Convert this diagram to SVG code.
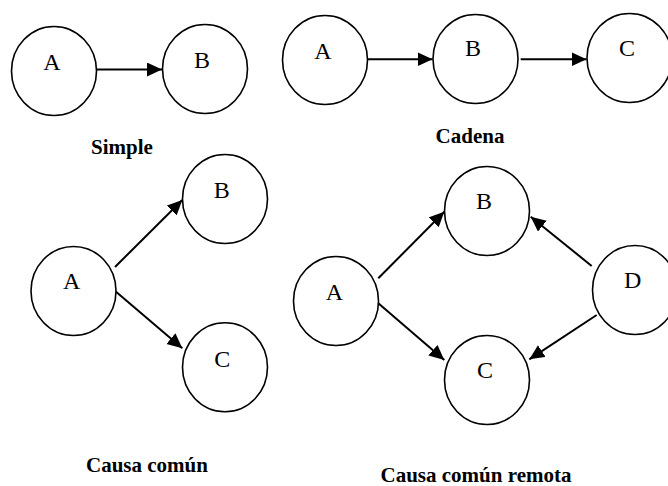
<svg xmlns="http://www.w3.org/2000/svg" width="668" height="486" viewBox="0 0 668 486">
<style>
.n{fill:#fff;stroke:#000;stroke-width:1.6}
.t{font-family:'Liberation Serif','Times New Roman','DejaVu Serif',serif;font-size:24px;fill:#000;text-anchor:middle}
.c{font-family:'Liberation Serif','Times New Roman','DejaVu Serif',serif;font-size:21px;font-weight:bold;fill:#000;text-anchor:middle}
.e{stroke:#000;stroke-width:2;fill:none;marker-end:url(#ah)}
</style>
<defs>
<marker id="ah" markerUnits="userSpaceOnUse" markerWidth="16" markerHeight="15" refX="15" refY="7" orient="auto">
<path d="M0,0 L15,7 L0,14 z" fill="#000"/>
</marker>
</defs>
<g id="connectors">
<line class="e" x1="97" y1="69.5" x2="162" y2="69.5"/>
<line class="e" x1="367" y1="59.3" x2="432.5" y2="59.3"/>
<line class="e" x1="520.7" y1="59.3" x2="586.5" y2="59.3"/>
<line class="e" x1="115" y1="267" x2="182.3" y2="200"/>
<line class="e" x1="116" y1="291.7" x2="182.3" y2="348.3"/>
<line class="e" x1="378.3" y1="278.3" x2="444.3" y2="211.7"/>
<line class="e" x1="591.7" y1="266" x2="530.7" y2="216.7"/>
<line class="e" x1="378.3" y1="303.3" x2="444.3" y2="360"/>
<line class="e" x1="596.7" y1="315" x2="529.3" y2="359.3"/>
</g>
<g id="simple-A"><ellipse class="n" cx="54" cy="71" rx="42.5" ry="44.5"/><text class="t" x="52" y="70">A</text></g>
<g id="simple-B"><ellipse class="n" cx="205" cy="69" rx="42.5" ry="44.5"/><text class="t" x="202" y="68">B</text></g>
<g id="cadena-A"><ellipse class="n" cx="325" cy="60" rx="42.5" ry="44.5"/><text class="t" x="323" y="59">A</text></g>
<g id="cadena-B"><ellipse class="n" cx="475.5" cy="59" rx="42.5" ry="44.5"/><text class="t" x="473" y="56">B</text></g>
<g id="cadena-C"><ellipse class="n" cx="629.5" cy="58" rx="42.5" ry="44.5"/><text class="t" x="627" y="56">C</text></g>
<g id="comun-A"><ellipse class="n" cx="73.5" cy="291" rx="42.5" ry="44.5"/><text class="t" x="71.7" y="289">A</text></g>
<g id="comun-B"><ellipse class="n" cx="225" cy="199" rx="42.5" ry="44.5"/><text class="t" x="221.7" y="197.7">B</text></g>
<g id="comun-C"><ellipse class="n" cx="225" cy="367.3" rx="42.5" ry="44.5"/><text class="t" x="222.3" y="366.7">C</text></g>
<g id="remota-A"><ellipse class="n" cx="336" cy="301" rx="42.5" ry="44.5"/><text class="t" x="334.3" y="300">A</text></g>
<g id="remota-B"><ellipse class="n" cx="487" cy="211" rx="42.5" ry="44.5"/><text class="t" x="484" y="209">B</text></g>
<g id="remota-C"><ellipse class="n" cx="487" cy="380" rx="42.5" ry="44.5"/><text class="t" x="485" y="378.3">C</text></g>
<g id="remota-D"><ellipse class="n" cx="635" cy="290" rx="42.5" ry="44.5"/><text class="t" x="632.7" y="288.3">D</text></g>
<g id="labels">
<text class="c" x="122" y="154">Simple</text>
<text class="c" x="470" y="143">Cadena</text>
<text class="c" x="147" y="472">Causa común</text>
<text class="c" x="476" y="482">Causa común remota</text>
</g>
</svg>
